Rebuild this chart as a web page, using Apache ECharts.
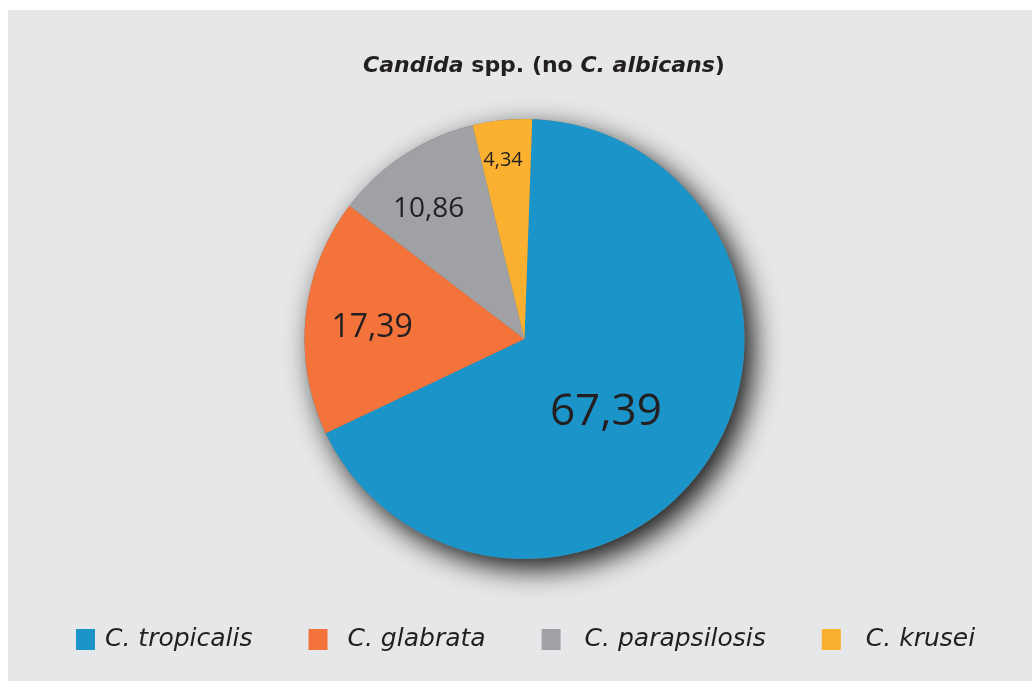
<!DOCTYPE html>
<html>
<head>
<meta charset="utf-8">
<script src="https://cdn.jsdelivr.net/npm/echarts@6/dist/echarts.min.js"></script>
<style>
html,body{margin:0;padding:0;background:#ffffff;}
#chart{position:absolute;left:8px;top:10px;width:1024px;height:671px;background:#e6e7e8;}
</style>
</head>
<body>
<div id="chart"></div>
<script>
const categories = ['C. tropicalis', 'C. glabrata', 'C. parapsilosis', 'C. krusei'];
const values = [67.39, 17.39, 10.86, 4.34];
const valueLabels = ['67,39', '17,39', '10,86', '4,34'];

const colors = ['#1b95c9', '#f3733b', '#9fa1a4', '#fbb12f'];
const labelSizes = [44, 32, 28, 20];
const labelShift = [[-13, 11], [-40, 1], [-34, -35], [-10, -66]];
const legendPad = [5, 15, 19, 20];

const chart = echarts.init(document.getElementById('chart'), null, {renderer: 'canvas'});
const center = [516.5, 329];
const radius = 220;

chart.setOption({
  backgroundColor: 'transparent',
  animation: false,
  title: {
    text: '{i|Candida} spp. (no {i|C. albicans})',
    left: 531,
    top: 40,
    textAlign: 'center',
    textStyle: {
      fontFamily: 'DejaVu Sans',
      fontWeight: 'bold',
      fontSize: 22,
      color: '#231f20',
      rich: {
        i: {fontFamily: 'DejaVu Sans', fontWeight: 'bold', fontStyle: 'italic', fontSize: 22, color: '#231f20'}
      }
    }
  },
  legend: {
    left: 63,
    top: 612,
    itemWidth: 19,
    itemHeight: 21,
    itemGap: 56,
    icon: 'rect',
    data: categories.map((c, i) => ({
      name: c,
      textStyle: {padding: [0, 0, 0, legendPad[i]]}
    })),
    textStyle: {
      fontFamily: 'DejaVu Sans',
      fontStyle: 'italic',
      fontSize: 25,
      color: '#231f20'
    }
  },
  series: [
    {
      type: 'pie',
      silent: true,
      center: center,
      radius: radius,
      z: 1,
      label: {show: false},
      labelLine: {show: false},
      itemStyle: {
        color: '#777',
        shadowBlur: 28,
        shadowColor: 'rgba(0,0,0,0.9)',
        shadowOffsetX: 9,
        shadowOffsetY: 10
      },
      data: [{value: 1, name: '_shadow'}]
    },
    {
      type: 'pie',
      center: center,
      radius: radius,
      startAngle: 88,
      clockwise: true,
      z: 2,
      label: {
        show: true,
        position: 'inside',
        fontFamily: 'Open Sans',
        color: '#231f20',
        formatter: p => valueLabels[p.dataIndex]
      },
      labelLayout: p => ({dx: labelShift[p.dataIndex][0], dy: labelShift[p.dataIndex][1]}),
      labelLine: {show: false},
      itemStyle: {borderWidth: 0},
      emphasis: {disabled: true},
      data: categories.map((c, i) => ({
        name: c,
        value: values[i],
        itemStyle: {color: colors[i]},
        label: {fontSize: labelSizes[i]}
      }))
    }
  ]
});
</script>
</body>
</html>
